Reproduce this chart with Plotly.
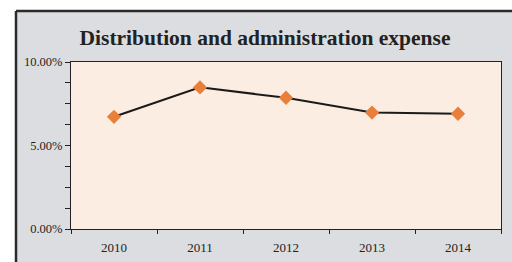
import plotly.graph_objects as go

years = ["2010", "2011", "2012", "2013", "2014"]
expense_pct = [6.72, 8.48, 7.86, 6.97, 6.90]
y_tick_vals = [0, 5, 10]
y_tick_text = ["0.00%", "5.00%", "10.00%"]

W, H = 512, 262
L, R, T, B = 71, 11, 62, 33
pw, ph = W - L - R, H - T - B

fig = go.Figure()
fig.add_trace(go.Scatter(
    x=years, y=expense_pct, mode="lines+markers",
    line=dict(color="#1a1a1a", width=2),
    marker=dict(symbol="diamond", size=11, color="#e8803a"),
    showlegend=False, hoverinfo="skip",
))

def px_to_paper_x(px):
    return (px - L) / pw

def px_to_paper_y(py):
    return (H - B - py) / ph

fx0, fy0 = px_to_paper_x(16), px_to_paper_y(11)
fx1, fy1 = px_to_paper_x(512), px_to_paper_y(262)
# outer grey frame (fill only)
fig.add_shape(type="rect", xref="paper", yref="paper", layer="below",
              x0=fx0, x1=fx1, y0=fy1, y1=fy0,
              fillcolor="#dcdde0", line=dict(width=0))
# frame border: top and left
fig.add_shape(type="line", xref="paper", yref="paper", layer="below",
              x0=fx0, x1=fx1, y0=fy0, y1=fy0, line=dict(color="#2a2a2a", width=2.5))
fig.add_shape(type="line", xref="paper", yref="paper", layer="below",
              x0=fx0, x1=fx0, y0=fy0, y1=fy1, line=dict(color="#2a2a2a", width=2.5))
# plot area fill
fig.add_shape(type="rect", xref="paper", yref="paper", layer="below",
              x0=0, x1=1, y0=0, y1=1,
              fillcolor="#fcede3", line=dict(width=0))

fig.update_layout(
    width=W, height=H,
    margin=dict(l=L, r=R, t=T, b=B),
    paper_bgcolor="white", plot_bgcolor="rgba(0,0,0,0)",
    font=dict(family="Liberation Serif", color="#222", size=13),
    title=dict(text="<b>Distribution and administration expense</b>",
               x=265 / W, xanchor="center", y=1 - 37 / H, yanchor="middle",
               font=dict(family="Liberation Serif", size=21.5, color="#222")),
)
fig.update_xaxes(
    type="category", tickson="boundaries", ticks="outside", ticklen=4,
    tickcolor="#222", showline=True, linecolor="#222", linewidth=1, mirror=True,
    showgrid=False, range=[-0.5, 4.5], tickfont=dict(size=13),
    ticklabelstandoff=6, automargin=False,
)
fig.update_yaxes(
    range=[0, 10], tickvals=y_tick_vals, ticktext=y_tick_text,
    ticks="outside", ticklen=5, tickcolor="#222",
    minor=dict(dtick=1.25, ticks="outside", ticklen=5, tickcolor="#222", showgrid=False),
    showline=True, linecolor="#222", linewidth=1, mirror=True,
    showgrid=False, zeroline=False, tickfont=dict(size=12.5), automargin=False,
)

fig.write_html(
    "out.html",
    config={"displayModeBar": False},
    post_script=(
        "document.documentElement.style.overflow='hidden';"
        "document.body.style.margin='0';document.body.style.overflow='hidden';"
    ),
)
